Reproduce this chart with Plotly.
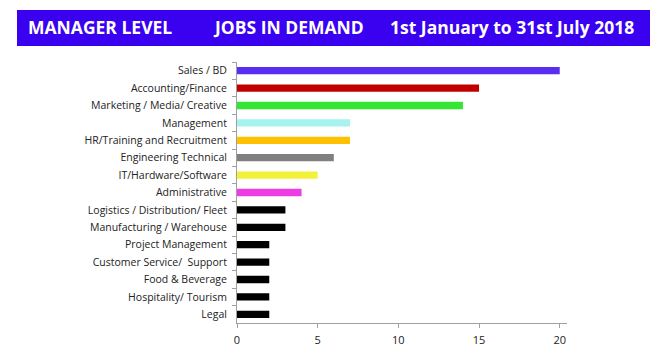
import plotly.graph_objects as go

categories = ["Sales / BD", "Accounting/Finance", "Marketing / Media/ Creative", "Management",
              "HR/Training and Recruitment", "Engineering Technical", "IT/Hardware/Software",
              "Administrative", "Logistics / Distribution/ Fleet", "Manufacturing / Warehouse",
              "Project Management", "Customer Service/  Support", "Food & Beverage",
              "Hospitality/ Tourism", "Legal"]
values = [20, 15, 14, 7, 7, 6, 5, 4, 3, 3, 2, 2, 2, 2, 2]
colors = ["#5A2EF2", "#C00000", "#33E633", "#A6F2EE", "#FFC000", "#7F8080", "#F2F23A",
          "#EE3CE4", "#000000", "#000000", "#000000", "#000000", "#000000", "#000000", "#000000"]
xticks = [0, 5, 10, 15, 20]
title_parts = ["MANAGER LEVEL", "JOBS IN DEMAND", "1st January to 31st July 2018"]

fig = go.Figure(go.Bar(
    y=categories, x=values, orientation="h",
    marker=dict(color=colors, line=dict(width=0)),
    width=0.42,
))

L, R, T, B = 237, 96, 62, 31
W, H = 663, 354
pw = W - L - R
ph = H - T - B

def px_x(x):
    return (x - L) / pw

def px_y(y):
    return (H - B - y) / ph

fig.add_shape(type="rect", xref="paper", yref="paper",
              x0=px_x(17), x1=px_x(650), y0=px_y(46), y1=px_y(10),
              fillcolor="#3A00F0", line=dict(width=0), layer="above")

for txt, x in zip(title_parts, [26, 211, 388]):
    fig.add_annotation(text="<b>" + txt + "</b>", xref="paper", yref="paper",
                       x=px_x(x), y=px_y(27), xanchor="left", yanchor="middle",
                       showarrow=False,
                       font=dict(family="Open Sans", size=17.5, color="white"))

fig.update_layout(
    width=W, height=H,
    margin=dict(l=L, r=R, t=T, b=B, autoexpand=False),
    paper_bgcolor="white", plot_bgcolor="white",
    showlegend=False,
    font=dict(family="Open Sans", size=10.5, color="#222222"),
    xaxis=dict(range=[0, 20.45], tickvals=xticks, showgrid=False, zeroline=False,
               showline=True, linecolor="#A0A0A0", linewidth=1,
               ticks="outside", ticklen=4, tickcolor="#A0A0A0",
               ticklabelstandoff=3, automargin=False,
               tickfont=dict(size=11, color="#222222")),
    yaxis=dict(autorange="reversed", showgrid=False, zeroline=False,
               showline=True, linecolor="#A0A0A0", linewidth=1,
               ticks="outside", ticklen=4, tickcolor="#A0A0A0",
               tickson="boundaries", ticklabelstandoff=7, automargin=False,
               tickfont=dict(size=10.5, color="#222222")),
)

fig.write_html("out.html")
